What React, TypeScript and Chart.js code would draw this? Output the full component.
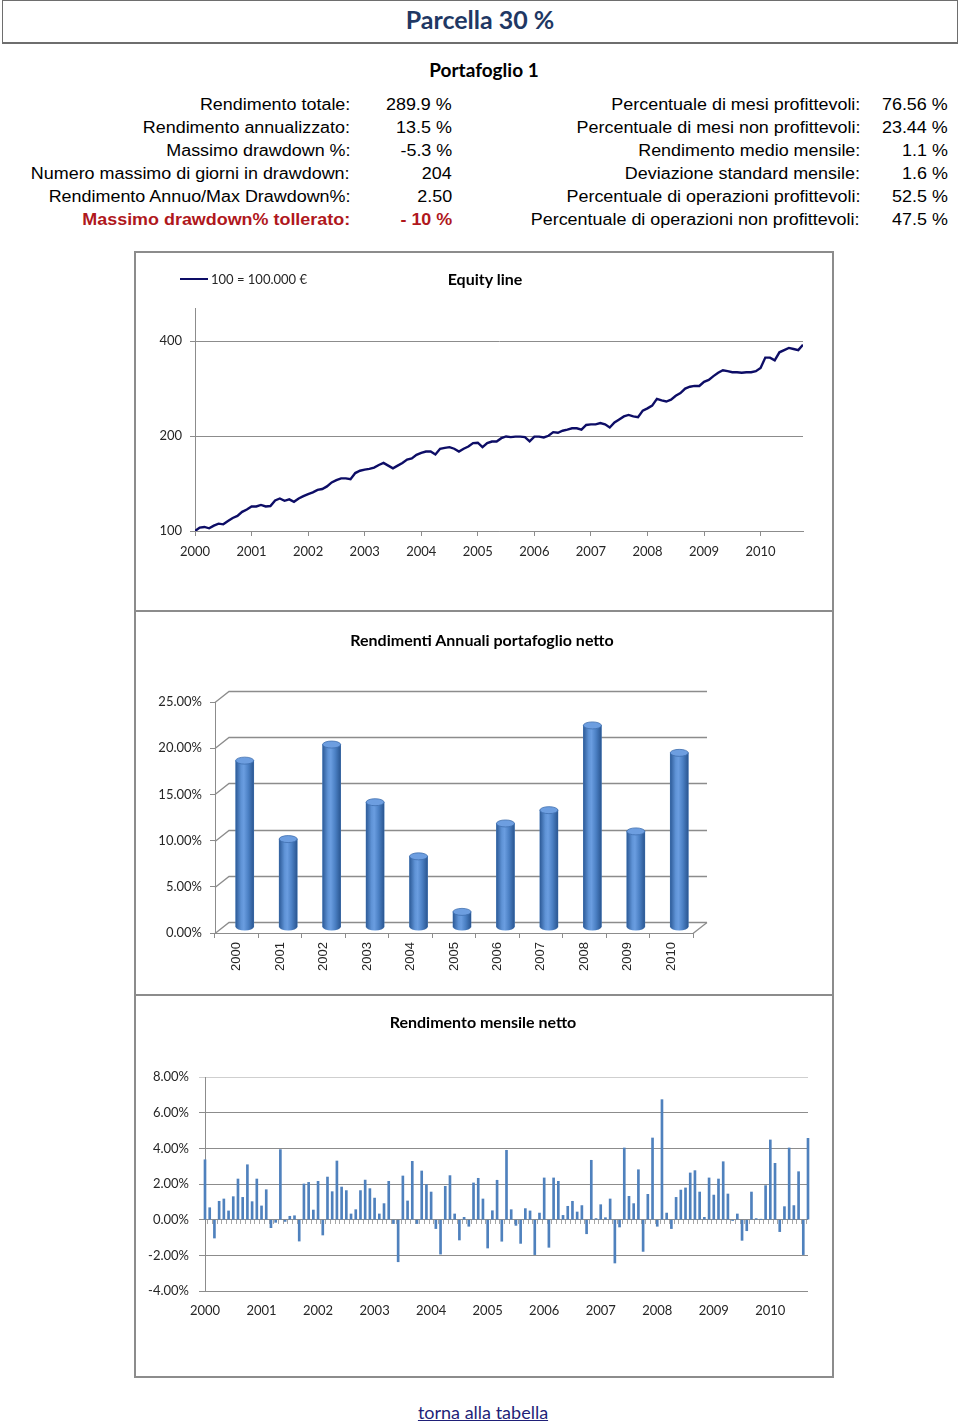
import React, { useEffect, useRef } from "react";
import { Chart, registerables } from "chart.js";

Chart.register(...registerables);

// ---------------- DATA ----------------
const pageTitle = "Parcella 30 %";
const portfolioTitle = "Portafoglio 1";

const statsLeftLabels = [
  "Rendimento totale:",
  "Rendimento annualizzato:",
  "Massimo drawdown %:",
  "Numero massimo di giorni in drawdown:",
  "Rendimento Annuo/Max Drawdown%:",
  "Massimo drawdown% tollerato:",
];
const statsLeftValues = ["289.9 %", "13.5 %", "-5.3 %", "204", "2.50", "- 10 %"];
const statsRightLabels = [
  "Percentuale di mesi profittevoli:",
  "Percentuale di mesi non profittevoli:",
  "Rendimento medio mensile:",
  "Deviazione standard mensile:",
  "Percentuale di operazioni profittevoli:",
  "Percentuale di operazioni non profittevoli:",
];
const statsRightValues = ["76.56 %", "23.44 %", "1.1 %", "1.6 %", "52.5 %", "47.5 %"];

const yearLabels = ["2000", "2001", "2002", "2003", "2004", "2005", "2006", "2007", "2008", "2009", "2010"];

// Equity line, one reading per month from Jan 2000 (100 = 100.000 €)
const equityStartYear = 2000;
const equityValues = [
  100, 102.5, 103, 102, 104, 105.5, 105, 107.6, 110, 111.6, 115, 117,
  119.6, 119.6, 121, 119.6, 120, 125, 126.8, 124.7, 126, 123.8, 126.8, 129,
  131, 132.6, 135, 135.9, 138.5, 142.6, 145, 146.9, 146.9, 146, 152.7, 155.3,
  156.6, 157.4, 159, 162, 164.4, 161.2, 158, 161.2, 164.4, 168.5, 170, 174.4,
  177, 178.7, 178.7, 175, 182.4, 183.6, 184.5, 182.4, 178.7, 182.4, 185.4, 190,
  190.6, 184.5, 190, 192.3, 192.3, 197, 199.5, 198.5, 199.3, 199.3, 198.5, 192.6,
  199.3, 199.3, 198, 200.5, 205.9, 205, 208, 209.8, 211.8, 211.8, 209.8, 217,
  218, 218, 220, 218, 213, 221, 226, 231, 233.5, 231, 229.5, 241,
  245, 250, 262.6, 259.6, 257.5, 261, 268.6, 273.8, 283, 287, 288.6, 288.6,
  297.5, 301.5, 310, 317.8, 323.7, 321.4, 319, 319, 317.8, 319, 319, 321.4,
  329, 355, 355, 348, 369, 375, 381, 378, 375, 390,
];
const equityTicks = [100, 200, 400];
const equityLegend = "100 = 100.000 €";

// Annual net returns (%)
const annualReturns = [18.06, 9.57, 19.8, 13.56, 7.7, 1.69, 11.26, 12.7, 21.87, 10.4, 18.9];

// Monthly net returns (%), Jan 2000 .. Sep 2010
const monthlyReturns = [
  3.36, 0.67, -1.03, 1.03, 1.16, 0.49, 1.29, 2.28, 1.25, 3.08, 1.01, 2.28,
  0.77, 1.68, -0.45, -0.15, 3.93, -0.1, 0.19, 0.22, -1.2, 2.0, 2.09, 0.54,
  2.15, -0.86, 2.39, 1.57, 3.29, 1.83, 1.63, 0.32, 0.56, 1.63, 2.22, 1.74,
  1.21, 0.32, 0.9, 2.15, -0.22, -2.36, 2.45, 1.05, 3.27, -0.22, 2.73, 1.96,
  1.55, -0.5, -1.93, 1.87, 2.47, 0.32, -1.14, 0.13, -0.37, 2.06, 2.32, 1.16,
  -1.59, 0.5, 2.21, -1.21, 3.89, 0.56, -0.32, -1.33, 0.62, 0.49, -1.96, 0.37,
  2.34, -1.55, 2.34, 2.15, 0.24, 0.75, 1.03, 0.43, 0.79, -0.79, 3.33, 0.06,
  0.84, 0.11, 1.16, -2.43, -0.41, 4.02, 1.31, 0.9, 2.8, -1.78, 1.42, 4.58,
  -0.37, 6.73, 0.37, -0.5, 1.25, 1.66, 1.78, 2.62, 2.75, 1.55, 0.13, 2.34,
  1.38, 2.28, 3.25, 1.44, -0.05, 0.32, -1.16, -0.62, 1.55, 0.06, 0.02, 1.91,
  4.47, 3.16, -0.67, 0.73, 4.02, 0.79, 2.69, -1.96, 4.56,
];
const monthLabels: string[] = [];
yearLabels.forEach((y) => {
  for (let m = 1; m <= 12; m++) {
    if (monthLabels.length < monthlyReturns.length) monthLabels.push(`${y}-${m < 10 ? "0" + m : m}`);
  }
});

// ---------------- STYLE ----------------
const AXIS_FONT = { family: "Lato", size: 13 };
const LABEL_COLOR = "#262626";
const GRID = "#8c8c8c";

// ---------------- CHARTS ----------------
function EquityChart() {
  const ref = useRef<HTMLCanvasElement>(null);
  useEffect(() => {
    const chart = new Chart(ref.current!, {
      type: "line",
      data: {
        datasets: [
          {
            label: equityLegend,
            data: equityValues.map((v, i) => ({ x: equityStartYear + i / 12, y: v })),
            borderColor: "#0d0d66",
            borderWidth: 2.4,
            pointRadius: 0,
            tension: 0,
          },
        ],
      },
      options: {
        responsive: false,
        animation: false,
        devicePixelRatio: 1,
        layout: { padding: { left: 10, right: 29, top: 55, bottom: 10 } },
        plugins: { legend: { display: false }, title: { display: false }, tooltip: { enabled: false } },
        scales: {
          x: {
            type: "linear",
            min: 2000,
            max: 2010.75,
            afterBuildTicks: (s: any) => {
              s.ticks = yearLabels.map((y) => ({ value: Number(y) }));
            },
            ticks: {
              callback: (v: any) => String(Math.round(Number(v))),
              font: AXIS_FONT,
              color: LABEL_COLOR,
              padding: 8,
              maxRotation: 0,
              autoSkip: false,
            },
            grid: { drawOnChartArea: false, drawTicks: true, tickLength: 5, color: GRID },
            border: { display: true, color: GRID },
            afterFit: (s: any) => {
              s.height = 69;
            },
          },
          y: {
            type: "logarithmic",
            min: 100,
            max: 510,
            afterBuildTicks: (s: any) => {
              s.ticks = equityTicks.map((v) => ({ value: v }));
            },
            ticks: {
              callback: (v: any) => String(v),
              font: AXIS_FONT,
              color: LABEL_COLOR,
              padding: 8,
            },
            grid: { color: GRID, tickLength: 5 },
            border: { display: true, color: GRID },
            afterFit: (s: any) => {
              s.width = 49;
            },
          },
        },
      },
    } as any);
    return () => chart.destroy();
  }, []);
  return <canvas ref={ref} width={696} height={357} style={{ position: "absolute", left: 136, top: 253 }} />;
}

const DX = 14;
const DY = -11;
const BAR_W = 18;

function cylGradient(ctx: CanvasRenderingContext2D, cx: number, w: number) {
  const g = ctx.createLinearGradient(cx - w / 2, 0, cx + w / 2, 0);
  g.addColorStop(0, "#2d5b98");
  g.addColorStop(0.3, "#5f93d6");
  g.addColorStop(0.45, "#6a9de0");
  g.addColorStop(0.7, "#4b80c4");
  g.addColorStop(1, "#2a5691");
  return g;
}

const wall3d = {
  id: "wall3d",
  beforeDatasetsDraw(chart: any) {
    const { ctx, chartArea: a, scales } = chart;
    const y = scales.y;
    ctx.save();
    ctx.strokeStyle = GRID;
    ctx.lineWidth = 1.3;
    y.ticks.forEach((t: any) => {
      const py = Math.round(y.getPixelForValue(t.value)) + 0.5;
      ctx.beginPath();
      ctx.moveTo(a.left, py);
      ctx.lineTo(a.left + DX, py + DY);
      ctx.lineTo(a.right + DX, py + DY);
      ctx.stroke();
    });
    const p0 = Math.round(y.getPixelForValue(0)) + 0.5;
    ctx.beginPath();
    ctx.moveTo(a.right, p0);
    ctx.lineTo(a.right + DX, p0 + DY);
    ctx.stroke();
    ctx.restore();
    ctx.save();
    ctx.translate(DX / 2 + 1, DY / 2);
  },
  afterDatasetsDraw(chart: any) {
    const { ctx } = chart;
    const meta = chart.getDatasetMeta(0);
    meta.data.forEach((bar: any) => {
      const { x, y, base, width } = bar.getProps(["x", "y", "base", "width"], true);
      if (![x, y, base, width].every((n) => Number.isFinite(n))) return;
      const rx = width / 2;
      const ry = 3.5;
      const grad = cylGradient(ctx, x, width);
      ctx.fillStyle = grad;
      ctx.fillRect(x - rx, y, width, base - y);
      ctx.beginPath();
      ctx.ellipse(x, base, rx, ry, 0, 0, Math.PI);
      ctx.fill();
      ctx.beginPath();
      ctx.ellipse(x, y, rx, ry, 0, 0, Math.PI * 2);
      ctx.fillStyle = "#6d9ee0";
      ctx.fill();
      ctx.strokeStyle = "#3f6fae";
      ctx.lineWidth = 0.8;
      ctx.stroke();
    });
    ctx.restore();
  },
};

function AnnualChart() {
  const ref = useRef<HTMLCanvasElement>(null);
  useEffect(() => {
    const chart = new Chart(ref.current!, {
      type: "bar",
      data: {
        labels: yearLabels,
        datasets: [
          {
            data: annualReturns,
            barThickness: BAR_W,
            clip: false,
            borderWidth: 0,
            backgroundColor: "#4F81BD",
          },
        ],
      },
      options: {
        responsive: false,
        animation: false,
        devicePixelRatio: 1,
        layout: { padding: { left: 10, right: 139, top: 90, bottom: 16 } },
        plugins: { legend: { display: false }, title: { display: false }, tooltip: { enabled: false } },
        scales: {
          x: {
            offset: true,
            grid: { offset: true, drawOnChartArea: false, drawTicks: true, tickLength: 5, color: GRID },
            border: { display: true, color: GRID },
            ticks: {
              minRotation: 90,
              maxRotation: 90,
              padding: 4,
              font: { family: "Liberation Sans", size: 13 },
              color: LABEL_COLOR,
              autoSkip: false,
            },
            afterFit: (s: any) => {
              s.height = 45;
            },
          },
          y: {
            min: 0,
            max: 25,
            ticks: {
              stepSize: 5,
              callback: (v: any) => Number(v).toFixed(2) + "%",
              font: AXIS_FONT,
              color: LABEL_COLOR,
              padding: 8,
            },
            grid: { drawOnChartArea: false, drawTicks: true, tickLength: 5, color: GRID },
            border: { display: true, color: GRID },
            afterFit: (s: any) => {
              s.width = 69;
            },
          },
        },
      },
      plugins: [wall3d],
    } as any);
    return () => chart.destroy();
  }, []);
  return <canvas ref={ref} width={696} height={382} style={{ position: "absolute", left: 136, top: 612 }} />;
}

const zeroTicks = {
  id: "zeroTicks",
  beforeDatasetsDraw(chart: any) {
    const { ctx, scales } = chart;
    const x = scales.x;
    const y = scales.y;
    const y0 = Math.round(y.getPixelForValue(0));
    ctx.save();
    ctx.strokeStyle = "#a6a6a6";
    ctx.lineWidth = 1;
    const n = chart.data.labels.length;
    for (let i = 0; i < n - 1; i++) {
      const px = Math.round((x.getPixelForValue(i) + x.getPixelForValue(i + 1)) / 2) + 0.5;
      ctx.beginPath();
      ctx.moveTo(px, y0);
      ctx.lineTo(px, y0 + 4);
      ctx.stroke();
    }
    ctx.restore();
  },
};

function MonthlyChart() {
  const ref = useRef<HTMLCanvasElement>(null);
  useEffect(() => {
    const chart = new Chart(ref.current!, {
      type: "bar",
      data: {
        labels: monthLabels,
        datasets: [
          {
            data: monthlyReturns,
            backgroundColor: "#4F81BD",
            barThickness: 2,
            borderWidth: 0,
            clip: 6,
          },
        ],
      },
      options: {
        responsive: false,
        animation: false,
        devicePixelRatio: 1,
        layout: { padding: { left: 10, right: 24, top: 81, bottom: 10 } },
        plugins: { legend: { display: false }, title: { display: false }, tooltip: { enabled: false } },
        scales: {
          x: {
            offset: false,
            grid: { display: false },
            border: { display: false },
            ticks: {
              autoSkip: false,
              minRotation: 0,
              maxRotation: 0,
              padding: 4,
              font: AXIS_FONT,
              color: LABEL_COLOR,
              callback: (_v: any, i: number) => (i % 12 === 0 ? monthLabels[i].slice(0, 4) : ""),
            },
            afterFit: (s: any) => {
              s.height = 75;
            },
          },
          y: {
            min: -4,
            max: 8,
            ticks: {
              stepSize: 2,
              callback: (v: any) => Number(v).toFixed(2) + "%",
              font: AXIS_FONT,
              color: LABEL_COLOR,
              padding: 10,
            },
            grid: {
              color: (c: any) => (c.tick && c.tick.value === 8 ? "#cfcfcf" : GRID),
              tickLength: 6,
            },
            border: { display: true, color: GRID },
            afterFit: (s: any) => {
              s.width = 59;
            },
          },
        },
      },
      plugins: [zeroTicks],
    } as any);
    return () => chart.destroy();
  }, []);
  return <canvas ref={ref} width={696} height={380} style={{ position: "absolute", left: 136, top: 996 }} />;
}

// ---------------- PAGE ----------------
const rowTops = [95, 118, 141, 164, 187, 210];

function abs(left: number, top: number, extra: React.CSSProperties = {}): React.CSSProperties {
  return { position: "absolute", left, top, whiteSpace: "nowrap", ...extra };
}

function StatCell({ text, right, top, red }: { text: string; right: number; top: number; red?: boolean }) {
  return (
    <div
      style={{
        position: "absolute",
        right: 960 - right,
        top,
        whiteSpace: "nowrap",
        fontFamily: "'Liberation Sans', Arial, sans-serif",
        fontSize: 16,
        lineHeight: "20px",
        color: red ? "#B0171C" : "#000",
        fontWeight: red ? 700 : 400,
        transform: "scaleX(1.12)",
        transformOrigin: "right center",
      }}
    >
      {text}
    </div>
  );
}

export default function App() {
  const chartTitle: React.CSSProperties = {
    fontFamily: "Lato, sans-serif",
    fontWeight: 700,
    fontSize: 16,
    color: "#000",
    lineHeight: "20px",
    transform: "translateX(-50%)",
  };
  return (
    <div
      style={{
        position: "absolute",
        left: 0,
        top: 0,
        width: 960,
        height: 1427,
        background: "#fff",
        overflow: "hidden",
      }}
    >
      {/* Title box */}
      <div
        style={{
          position: "absolute",
          left: 2,
          top: 0,
          width: 956,
          height: 44,
          boxSizing: "border-box",
          border: "1px solid #6e6e6e",
          borderBottomWidth: 2,
          textAlign: "center",
          fontFamily: "Lato, sans-serif",
          fontWeight: 700,
          fontSize: 25,
          lineHeight: "37px",
          color: "#1F3864",
        }}
      >
        {pageTitle}
      </div>
      <div
        style={abs(484, 59, {
          transform: "translateX(-50%)",
          fontFamily: "Lato, sans-serif",
          fontWeight: 700,
          fontSize: 19,
          lineHeight: "22px",
        })}
      >
        {portfolioTitle}
      </div>

      {/* Stats */}
      {statsLeftLabels.map((t, i) => (
        <StatCell key={"ll" + i} text={t} right={350} top={rowTops[i]} red={i === 5} />
      ))}
      {statsLeftValues.map((t, i) => (
        <StatCell key={"lv" + i} text={t} right={452} top={rowTops[i]} red={i === 5} />
      ))}
      {statsRightLabels.map((t, i) => (
        <StatCell key={"rl" + i} text={t} right={860} top={rowTops[i]} />
      ))}
      {statsRightValues.map((t, i) => (
        <StatCell key={"rv" + i} text={t} right={948} top={rowTops[i]} />
      ))}

      {/* Chart panels */}
      <div style={{ position: "absolute", left: 134, top: 251, width: 700, height: 361, boxSizing: "border-box", border: "2px solid #8c8c8c" }} />
      <div style={{ position: "absolute", left: 134, top: 610, width: 700, height: 386, boxSizing: "border-box", border: "2px solid #8c8c8c" }} />
      <div style={{ position: "absolute", left: 134, top: 994, width: 700, height: 384, boxSizing: "border-box", border: "2px solid #8c8c8c" }} />

      <EquityChart />
      <AnnualChart />
      <MonthlyChart />

      {/* Equity title + legend */}
      <div style={abs(485, 269, chartTitle)}>Equity line</div>
      <div style={{ position: "absolute", left: 180, top: 278, width: 28, height: 2, background: "#0d0d66" }} />
      <div style={abs(211, 271, { fontFamily: "Lato, sans-serif", fontSize: 13, lineHeight: "16px", color: "#262626" })}>
        {equityLegend}
      </div>

      <div style={abs(482, 630, chartTitle)}>Rendimenti Annuali portafoglio netto</div>
      <div style={abs(483, 1012, chartTitle)}>Rendimento mensile netto</div>

      {/* Link */}
      <a
        href="#"
        style={abs(483, 1401, {
          transform: "translateX(-50%)",
          fontFamily: "Lato, sans-serif",
          fontSize: 18,
          lineHeight: "22px",
          color: "#1f1f78",
          textDecoration: "underline",
        })}
      >
        torna alla tabella
      </a>
    </div>
  );
}
